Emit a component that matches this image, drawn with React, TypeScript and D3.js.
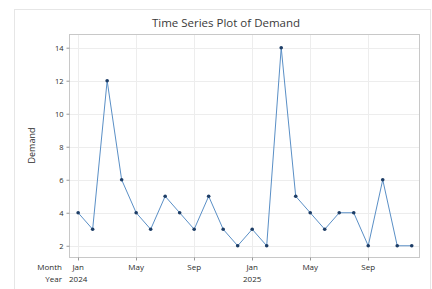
import { useEffect, useRef } from 'react';
import * as d3 from 'd3';

const WIDTH = 432;
const HEIGHT = 289;
const PLOT = { left: 69, right: 419, top: 34, bottom: 257 };

const FONT = '"Open Sans", "Noto Sans", sans-serif';
const LINE_COLOR = '#5a8fc6';
const POINT_COLOR = '#1d3d66';
const TEXT_COLOR = '#2b2b2b';

// Monthly demand, Jan 2024 – Dec 2025.
const months = ['Jan', 'Feb', 'Mar', 'Apr', 'May', 'Jun', 'Jul', 'Aug', 'Sep', 'Oct', 'Nov', 'Dec'];
const years = [2024, 2025];
const demand = [4, 3, 12, 6, 4, 3, 5, 4, 3, 5, 3, 2, 3, 2, 14, 5, 4, 3, 4, 4, 2, 6, 2, 2];
const yTicks = [2, 4, 6, 8, 10, 12, 14];
const xTickIndices = [0, 4, 8, 12, 16, 20];

export default function App() {
  const svgRef = useRef<SVGSVGElement>(null);

  useEffect(() => {
    if (!svgRef.current) return;
    const svg = d3.select(svgRef.current);
    svg.selectAll('*').remove();

    const x = d3.scaleLinear().domain([-0.63, 23.5]).range([PLOT.left, PLOT.right]);
    const y = d3.scaleLinear().domain([1.32, 14.83]).range([PLOT.bottom, PLOT.top]);

    // Outer frame
    svg.append('rect')
      .attr('x', 14.5).attr('y', 9.5)
      .attr('width', 416).attr('height', 290)
      .attr('fill', '#ffffff')
      .attr('stroke', '#e6e6e6');

    // Title
    svg.append('text')
      .attr('x', 226).attr('y', 27)
      .attr('text-anchor', 'middle')
      .attr('fill', '#3a3a3a')
      .attr('font-size', '11.5px')
      .attr('font-family', FONT)
      .text('Time Series Plot of Demand');

    // Grid lines
    const grid = svg.append('g');
    grid.selectAll('line.h')
      .data(yTicks)
      .join('line')
      .attr('x1', PLOT.left).attr('x2', PLOT.right)
      .attr('y1', (d) => Math.round(y(d)) + 0.5)
      .attr('y2', (d) => Math.round(y(d)) + 0.5)
      .attr('stroke', '#ededed');
    grid.selectAll('line.v')
      .data(xTickIndices)
      .join('line')
      .attr('x1', (d) => Math.round(x(d)) + 0.5)
      .attr('x2', (d) => Math.round(x(d)) + 0.5)
      .attr('y1', PLOT.top).attr('y2', PLOT.bottom)
      .attr('stroke', '#ededed');

    // Plot area border
    svg.append('rect')
      .attr('x', PLOT.left + 0.5).attr('y', PLOT.top + 0.5)
      .attr('width', PLOT.right - PLOT.left).attr('height', PLOT.bottom - PLOT.top)
      .attr('fill', 'none')
      .attr('stroke', '#c8c8c8');

    // Y axis
    svg.append('g')
      .attr('transform', `translate(${PLOT.left + 0.5},0)`)
      .call(d3.axisLeft(y).tickValues(yTicks).tickSize(3).tickPadding(3))
      .call((sel) => {
        sel.select('.domain').remove();
        sel.selectAll('.tick line').attr('stroke', '#9a9a9a');
        sel.selectAll('.tick text')
          .attr('fill', TEXT_COLOR)
          .attr('font-size', '7.5px')
          .attr('font-family', FONT);
      });

    svg.append('text')
      .attr('transform', `translate(35,${(PLOT.top + PLOT.bottom) / 2}) rotate(-90)`)
      .attr('text-anchor', 'middle')
      .attr('fill', TEXT_COLOR)
      .attr('font-size', '9px')
      .attr('font-family', FONT)
      .text('Demand');

    // X axis: month row and year row
    const xAxis = svg.append('g').attr('transform', `translate(0,${PLOT.bottom + 0.5})`);
    xAxis.selectAll('line')
      .data(xTickIndices)
      .join('line')
      .attr('x1', (d) => Math.round(x(d)) + 0.5)
      .attr('x2', (d) => Math.round(x(d)) + 0.5)
      .attr('y1', 0).attr('y2', 3)
      .attr('stroke', '#9a9a9a');
    xAxis.selectAll('text.month')
      .data(xTickIndices)
      .join('text')
      .attr('x', (d) => x(d))
      .attr('y', 12)
      .attr('text-anchor', 'middle')
      .attr('fill', TEXT_COLOR)
      .attr('font-size', '8px')
      .attr('font-family', FONT)
      .text((d) => months[d % 12]);
    xAxis.selectAll('text.year')
      .data(years)
      .join('text')
      .attr('x', (_, i) => x(i * 12))
      .attr('y', 24)
      .attr('text-anchor', 'middle')
      .attr('fill', TEXT_COLOR)
      .attr('font-size', '8px')
      .attr('font-family', FONT)
      .text((d) => String(d));

    xAxis.append('text')
      .attr('x', 62).attr('y', 12)
      .attr('text-anchor', 'end')
      .attr('fill', TEXT_COLOR)
      .attr('font-size', '8px')
      .attr('font-family', FONT)
      .text('Month');
    xAxis.append('text')
      .attr('x', 62).attr('y', 24)
      .attr('text-anchor', 'end')
      .attr('fill', TEXT_COLOR)
      .attr('font-size', '8px')
      .attr('font-family', FONT)
      .text('Year');

    // Series line and points
    const line = d3.line<number>()
      .x((_, i) => x(i))
      .y((d) => y(d));

    svg.append('path')
      .datum(demand)
      .attr('fill', 'none')
      .attr('stroke', LINE_COLOR)
      .attr('stroke-width', 1)
      .attr('d', line);

    svg.append('g')
      .selectAll('circle')
      .data(demand)
      .join('circle')
      .attr('cx', (_, i) => x(i))
      .attr('cy', (d) => y(d))
      .attr('r', 1.8)
      .attr('fill', POINT_COLOR);
  }, []);

  return (
    <svg
      ref={svgRef}
      width={WIDTH}
      height={HEIGHT}
      style={{ position: 'absolute', left: 0, top: 0, display: 'block' }}
    />
  );
}
